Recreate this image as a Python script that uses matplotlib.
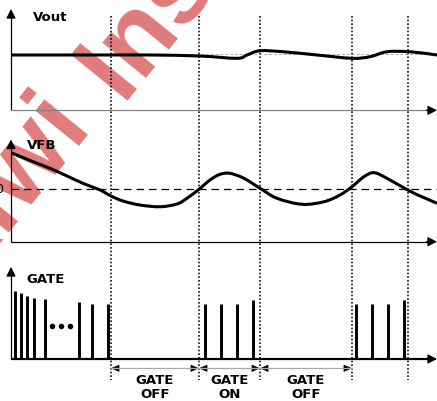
import numpy as np
import matplotlib
matplotlib.use("Agg")
import matplotlib.pyplot as plt
from matplotlib.path import Path
from matplotlib.patches import PathPatch
from matplotlib.lines import Line2D
from matplotlib.transforms import blended_transform_factory

# ---------------- data (arbitrary time units / normalized amplitudes) -------------
T_MAX = 426
boundaries = [100, 188, 249, 341, 397]
phase_labels = ["GATE\nOFF", "GATE\nON", "GATE\nOFF"]

vout_t = [0, 89, 139, 189, 226, 236, 249, 272, 306, 341, 359, 376, 399, 426]
vout_v = [0.546, 0.546, 0.546, 0.536, 0.513, 0.546, 0.588, 0.578, 0.546,
          0.513, 0.529, 0.578, 0.578, 0.546]
vout_ref = 0.553

vfb_t = [0, 22, 39, 56, 72, 89, 100, 112, 129, 149, 166, 176, 188, 199, 209,
         219, 233, 249, 266, 291, 313, 329, 341, 353, 363, 376, 398, 413, 426]
vfb_v = [0.871, 0.783, 0.718, 0.643, 0.571, 0.506, 0.447, 0.398, 0.359, 0.342,
         0.369, 0.425, 0.513, 0.604, 0.659, 0.669, 0.620, 0.523, 0.425, 0.366,
         0.391, 0.457, 0.538, 0.636, 0.675, 0.620, 0.499, 0.431, 0.376]
vfb_ref = 0.513

gate_t = [4, 9.7, 15.7, 23.3, 34, 68, 81.3, 96.7,
          194, 210, 226, 242, 345, 361, 377, 393]
gate_h = [0.739, 0.714, 0.685, 0.666, 0.655, 0.616, 0.601, 0.595,
          0.598, 0.598, 0.598, 0.641, 0.595, 0.595, 0.595, 0.641]
dots_t = [41.3, 50, 59]
dots_y = [0.362, 0.362, 0.362]

# ---------------- figure ----------------
W, H = 437, 401
fig = plt.figure(figsize=(W / 100, H / 100), dpi=100)
fig.patch.set_facecolor("white")


def fx(x):
    return x / W


def fy(y):
    return 1 - y / H


def smooth_path(x, y):
    P = np.column_stack([np.asarray(x, float), np.asarray(y, float)])
    ext = np.vstack([2 * P[0] - P[1], P, 2 * P[-1] - P[-2]])
    verts = [tuple(P[0])]
    codes = [Path.MOVETO]
    for i in range(1, len(ext) - 2):
        p0, p1, p2, p3 = ext[i - 1], ext[i], ext[i + 1], ext[i + 2]
        c1 = p1 + (p2 - p0) / 6
        c2 = p2 - (p3 - p1) / 6
        verts += [tuple(c1), tuple(c2), tuple(p2)]
        codes += [Path.CURVE4] * 3
    return Path(verts, codes)


def make_axes(top, bottom, xcolor, xlw):
    ax = fig.add_axes([fx(11), fy(bottom), fx(437 - 11), (bottom - top) / H])
    ax.set_xlim(0, T_MAX)
    ax.set_ylim(0, 1)
    for s in ax.spines.values():
        s.set_visible(False)
    ax.set_xticks([])
    ax.set_yticks([])
    ax.patch.set_alpha(0)
    # y axis
    ax.plot([0, 0], [0, 0.97], transform=ax.transAxes, color="black", lw=0.9,
            clip_on=False, solid_capstyle="butt")
    ax.annotate("", xy=(0, 1), xytext=(0, 0.93), xycoords="axes fraction",
                arrowprops=dict(arrowstyle="-|>,head_length=0.55,head_width=0.28",
                                color="black", lw=0.9, shrinkA=0, shrinkB=0),
                annotation_clip=False)
    # x axis
    ax.plot([0, 0.985], [0, 0], transform=ax.transAxes, color=xcolor, lw=xlw,
            clip_on=False, solid_capstyle="butt")
    ax.annotate("", xy=(1, 0), xytext=(0.975, 0), xycoords="axes fraction",
                arrowprops=dict(arrowstyle="-|>,head_length=0.55,head_width=0.28",
                                color="black", lw=0.9, shrinkA=0, shrinkB=0),
                annotation_clip=False)
    return ax


ax_v = make_axes(9, 110.3, "#808080", 0.9)
ax_f = make_axes(139.5, 241.7, "black", 0.9)
ax_g = make_axes(267, 359, "black", 1.6)

# Vout
ax_v.axhline(vout_ref, color="#b0b0b0", lw=0.7, ls=(0, (3, 2)), zorder=1)
ax_v.add_patch(PathPatch(smooth_path(vout_t, vout_v), fill=False, lw=2.2,
                         edgecolor="black", capstyle="butt", zorder=3))

# VFB
ax_f.axhline(vfb_ref, color="black", lw=0.9, ls=(0, (6, 4)), zorder=1)
ax_f.add_patch(PathPatch(smooth_path(vfb_t, vfb_v), fill=False, lw=2.2,
                         edgecolor="black", capstyle="butt", zorder=3))

# GATE pulses
ax_g.vlines(gate_t, 0, gate_h, color="black", lw=2.1, zorder=3)
ax_g.scatter(dots_t, dots_y, s=9, color="black", zorder=3)

# labels
lbl_kw = dict(fontsize=9.5, fontweight="bold", family="DejaVu Sans", color="black")
fig.text(fx(33), fy(21), "Vout", ha="left", va="baseline", **lbl_kw)
fig.text(fx(27), fy(149.3), "VFB", ha="left", va="baseline", **lbl_kw)
fig.text(fx(26), fy(282.7), "GATE", ha="left", va="baseline", **lbl_kw)
fig.text(fx(3.5), fy(189.5), "0", ha="right", va="center", fontsize=9, color="black")

# dotted boundaries + phase arrows
btr = blended_transform_factory(ax_g.transData, fig.transFigure)
for b in boundaries:
    fig.add_artist(Line2D([b, b], [fy(16), fy(380)], transform=btr, color="black",
                          lw=1.1, ls=(0, (1.1, 1.3))))

ya = fy(368.3)
for (a, b), lab in zip(zip(boundaries[:-1], boundaries[1:]), phase_labels):
    fig.add_artist(Line2D([a, b], [ya, ya], transform=btr, color="#a8a8a8", lw=0.9))
    for tip, tail in ((a, a + 7), (b, b - 7)):
        ax_g.annotate("", xy=(tip, ya), xytext=(tail, ya), xycoords=btr,
                      textcoords=btr,
                      arrowprops=dict(arrowstyle="-|>,head_length=0.5,head_width=0.22",
                                      color="black", lw=0.6, shrinkA=0, shrinkB=0),
                      annotation_clip=False)
    ax_g.text((a + b) / 2, fy(398), lab, transform=btr, ha="center", va="baseline",
              linespacing=1.12, fontsize=9.5, fontweight="bold", family="DejaVu Sans")

# watermark (behind the drawing)
wm_kw = dict(fontsize=76, fontweight="bold", family="Liberation Sans", color="#e07b7b",
             rotation=51, rotation_mode="anchor", va="baseline", zorder=-5)
fig.text(fx(112), fy(106), "Kiwi ", ha="right", **wm_kw)
fig.text(fx(121), fy(100), "Instruments", ha="left", **wm_kw)

fig.savefig("out.png", dpi=100, facecolor="white")
